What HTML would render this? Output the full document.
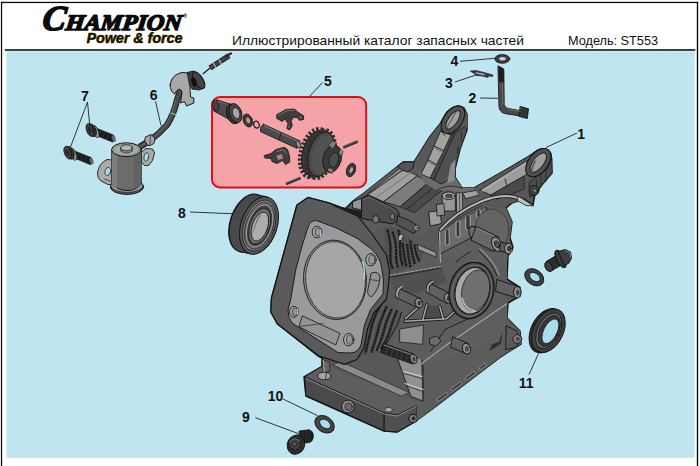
<!DOCTYPE html>
<html>
<head>
<meta charset="utf-8">
<title>ST553</title>
<style>
html,body{margin:0;padding:0;background:#fff;}
body{width:700px;height:466px;overflow:hidden;position:relative;font-family:"Liberation Sans",sans-serif;}
svg{position:absolute;left:0;top:0;display:block;}
.lbl{font-family:"Liberation Sans",sans-serif;font-weight:bold;font-size:14px;fill:#111;}
.ld{stroke:#222;stroke-width:0.9;fill:none;}
.hd{font-family:"Liberation Sans",sans-serif;font-size:13px;fill:#111;}
</style>
</head>
<body>
<svg width="700" height="466" viewBox="0 0 700 466">
<!-- FRAME -->
<rect x="0" y="0" width="700" height="466" fill="#ffffff"/>
<rect x="6.400" y="51.200" width="688.100" height="406.700" fill="#bfe6f0"/>
<rect x="0.900" y="1.800" width="1.250" height="465" fill="#0a0a0a"/>
<rect x="696.800" y="1.800" width="1.400" height="465" fill="#0a0a0a"/>
<rect x="0.900" y="1.800" width="697.300" height="1.300" fill="#0a0a0a"/>
<rect x="4.900" y="49.200" width="690.400" height="1.550" fill="#0a0a0a"/>

<!-- HEADER -->
<g id="header">
<g transform="translate(41.500,30.400) skewX(-7)">
<text x="0" y="0" font-family="Liberation Serif, serif" font-weight="bold" font-style="italic" font-size="35" fill="#0a0a0a" stroke="#0a0a0a" stroke-width="1.500" stroke-linejoin="round">C</text>
</g>
<g transform="translate(65,29.700) skewX(-7)">
<text x="0" y="0" font-family="Liberation Serif, serif" font-weight="bold" font-style="italic" font-size="22.300" fill="#0a0a0a" stroke="#0a0a0a" stroke-width="1.500" stroke-linejoin="round" textLength="116" lengthAdjust="spacingAndGlyphs">HAMPION</text>
</g>
<text x="183.500" y="18" font-family="Liberation Sans, sans-serif" font-weight="bold" font-size="5" fill="#0a0a0a">®</text>
<text x="87.300" y="43" font-family="Liberation Sans, sans-serif" font-weight="bold" font-style="italic" font-size="15" fill="#d9b21c" textLength="96" lengthAdjust="spacingAndGlyphs">Power &amp; force</text>
<text x="86.500" y="42.500" font-family="Liberation Sans, sans-serif" font-weight="bold" font-style="italic" font-size="15" fill="#14100a" stroke="#14100a" stroke-width="0.300" textLength="96" lengthAdjust="spacingAndGlyphs">Power &amp; force</text>
<text class="hd" x="232" y="44.800" textLength="292" lengthAdjust="spacingAndGlyphs">Иллюстрированный каталог запасных частей</text>
<text class="hd" x="568" y="44.800" textLength="90" lengthAdjust="spacingAndGlyphs">Модель: ST553</text>
</g>

<!-- RED INSET BOX -->
<rect x="212" y="97" width="154.200" height="90.400" rx="8" ry="8" fill="#f5a3a7" stroke="#df0f18" stroke-width="2"/>

<g id="engine" stroke-linejoin="round" stroke-linecap="round">
<!-- silhouette -->
<path d="M440,124 L447,112 Q456,103 464,108 L467,114 L467,130 L460,149 L455,169 L455,177 L462,188 L474,188 L504,171 L526,158 L538,150 Q547,146 551,154 L552,173 L541,186 L535,194 L533,205 L524,199 L512,203 L506,208 L512,222 L510,238 L513,247 L508,256 L507,279 L520,287.500 L520,296 L508,303 L507,318 L520,331 L521,344 L502,356 L469,381 L435,407 L416,421 L397,432 L384,431 L306,396 L304,377 L322,366.500 L322,358 L318,356 L277.500,324 L270.800,312 L271.500,298 L297,205 L308,197.500 L329,203 L345,209 L353,201 L364,193 L398,166 L403,162 L414,162 L430,136.500 Z" fill="#585858" stroke="#141414" stroke-width="1.5"/>

<!-- ===== BASE PLATE ===== -->
<path d="M305,377 L324,365.500 L420,402 L416.600,405.500 L397,415 L384.400,413 Z" fill="#5e5e5e"/>
<path d="M333,364.700 L341,361.500 L409,392.500 L401.600,396 Z" fill="#8a8a8a" stroke="#2a2a2a" stroke-width="0.7"/>
<path d="M305,377 L384.400,413 L384.400,431 L306,395.500 Z" fill="#4a4a4a" stroke="#151515" stroke-width="1"/>
<path d="M384.400,413 L397,415 L416.600,405.500 L416.600,421 L397,432 L384.400,431 Z" fill="#505050" stroke="#151515" stroke-width="1"/>
<path d="M306,378.600 L384.400,414 L397,416 L416,406.600" fill="none" stroke="#8e8e8e" stroke-width="1"/>
<ellipse cx="324.300" cy="376" rx="6.600" ry="3.900" fill="#a4a4a4" stroke="#1c1c1c" stroke-width="0.9"/>
<path d="M326.500,372.500 L325.500,379.600" stroke="#1c1c1c" stroke-width="0.8"/>
<circle cx="348" cy="406.500" r="6.400" fill="#8a8a8a" stroke="#171717" stroke-width="1"/>
<circle cx="348.500" cy="406.800" r="3.700" fill="#6a6a6a" stroke="#222" stroke-width="0.8"/>
<ellipse cx="388.700" cy="409.700" rx="3.800" ry="2.300" fill="#a8a8a8" stroke="#222" stroke-width="0.7"/>
<circle cx="413" cy="418.500" r="4.200" fill="#777" stroke="#141414" stroke-width="1.100"/>
<circle cx="413.600" cy="418.500" r="1.900" fill="#2c2c2c"/>
<path d="M322.500,359.500 L329.500,362 L329.800,371.500 L323.500,372.500 Z" fill="#666" stroke="#1c1c1c" stroke-width="0.7"/>
<path d="M323.300,360.500 L324.200,372" stroke="#a8a8a8" stroke-width="1.100"/>

<!-- ===== LOWER RIGHT CRANKCASE SIDE ===== -->
<path d="M420,402 L423,360 L440,346 L506,299 L507,318 L520,331 L521,344 L502,356 L435,407 L416.600,421 L416.600,405.500 Z" fill="#5c5c5c"/>
<path d="M424,356.500 L506,299.500" stroke="#a0a0a0" stroke-width="0.8" fill="none"/>
<path d="M423,360 L423,401" stroke="#1c1c1c" stroke-width="0.9" fill="none"/>
<g fill="#3a3a3a" stroke="#a2a2a2" stroke-width="0.7">
<path d="M437,399 l9.500,-6.800 l1.400,2.200 l-9.500,6.800 z"/>
<path d="M451,388.500 l9.500,-6.800 l1.400,2.200 l-9.500,6.800 z"/>
<path d="M465,378 l9.500,-6.800 l1.400,2.200 l-9.500,6.800 z"/>
<path d="M479,367.500 l6,-4.300 l1.400,2.200 l-6,4.300 z"/>
</g>
<path d="M489,351 L503.500,321 L501,344 Z" fill="#2f2f2f"/>
<path d="M506.500,326 L516,330.500 L520.500,339 L516,347.500 L506,349.500 Z" fill="#5a5a5a" stroke="#161616" stroke-width="0.9"/>
<circle cx="517.300" cy="339" r="4.400" fill="#7e7e7e" stroke="#161616" stroke-width="0.9"/>
<circle cx="517.800" cy="339" r="2" fill="#444"/>

<!-- cylinder neck light panel -->
<path d="M396,353 L410,346 L421.500,352 L423,401 L411,396.500 L405,380 Z" fill="#909090" stroke="#1e1e1e" stroke-width="0.9"/>
<path d="M404,371.500 L422,376.500 M405,383.500 L423,389.500" stroke="#d2d2d2" stroke-width="1.2" fill="none"/>
<path d="M404,373.500 L422,378.500 M405.500,385.500 L423,391.500" stroke="#333" stroke-width="0.8" fill="none"/>

<!-- ===== MID BODY base tones ===== -->
<path d="M392,262 L440,250 L507,262 L507,300 L440,346 L423,360 L396,353 L392,340 L398,300 Z" fill="#5c5c5c"/>
<!-- big dark side panel -->
<path d="M445,329.500 L507.300,302.500 L507.300,318.600 L498.800,342 L421.500,365.800 L423,358 Z" fill="#5e5e5e"/>
<path d="M421.500,363.700 L445,346 L507,303.600" fill="none" stroke="#c8c8c8" stroke-width="0.9"/>
<path d="M430,352 L445,329.500 L472,317" fill="none" stroke="#1c1c1c" stroke-width="0.9"/>

<!-- neck light panel under fins -->
<path d="M400,329 L423.600,325 L422.600,344.400 L400,342 Z" fill="#8e8e8e" stroke="#1e1e1e" stroke-width="0.8"/>
<!-- web ribs -->
<path d="M426.900,304.900 L439.800,306.600 L443.200,318.700 L422.600,320.400 Z" fill="#4a4a4a"/>
<g fill="none" stroke="#161616" stroke-width="3.200">
<path d="M420.900,304.900 L405.500,318.700"/>
<path d="M426.900,304.900 L422.600,320.400"/>
<path d="M439.800,306.600 L443.200,318.700"/>
<path d="M405,321.300 L446.700,318.700 L454,312"/>
</g>
<g fill="none" stroke="#a6a6a6" stroke-width="1.600">
<path d="M420.900,304.900 L405.500,318.700"/>
<path d="M426.900,304.900 L422.600,320.400"/>
<path d="M439.800,306.600 L443.200,318.700"/>
<path d="M405,321.300 L446.700,318.700 L454,312"/>
</g>

<!-- ===== UPPER FINS ===== -->
<path d="M384,226 L398,227 L409,238 L424,249 L421,262 L390,277 L386,258 Z" fill="#525252"/>
<g fill="none" stroke="#1c1c1c" stroke-width="2.400" stroke-dasharray="2.600 0.400" stroke-linecap="butt">
<path d="M387.200,229.700 Q391,240 390.400,252.200 T393,268.900"/>
<path d="M392.400,231.600 Q396.500,241 396.200,252.200 T398.200,267.600"/>
<path d="M398.200,229.700 Q400.500,238 400,245.700 T402.700,266.300"/>
<path d="M402.700,243.200 Q404,255 406.500,266.300"/>
<path d="M407.200,243.800 Q408,256 410.400,267.600"/>
<path d="M410.400,240.600 Q411.500,253 414.900,263.800"/>
<path d="M414.300,244.500 Q415.500,254 419.400,261.200"/>
</g>
<g fill="none" stroke="#666" stroke-width="0.700">
<path d="M389.800,233 Q393.300,243 393.300,252.200 T395.600,267"/>
<path d="M395.300,234 Q398.700,243 398.300,252.200 T400.500,266"/>
<path d="M404.900,246 Q405.800,256 408.500,266"/>
<path d="M412.400,244 Q413.500,254 417.200,262.500"/>
</g>
<ellipse cx="400.700" cy="237.400" rx="2.200" ry="3.500" transform="rotate(20 400.700 237.400)" fill="#b4b4b4" stroke="#161616" stroke-width="0.700"/>
<path d="M417.500,244.500 L436,252.500 L436,257 L419,250 Z" fill="#969696" stroke="#1a1a1a" stroke-width="0.700"/>
<!-- band between fins -->
<path d="M389,275.500 L441,266 L447,282 L398,300 Z" fill="#505050"/>
<path d="M389,275.500 L441,266.500" stroke="#b0b0b0" stroke-width="0.9" stroke-dasharray="3 1.500" fill="none"/>
<path d="M390,277.300 L441,268" stroke="#1b1b1b" stroke-width="0.8" fill="none"/>

<!-- ===== LOWER FINS ===== -->
<path d="M386,300 L401.400,312.300 L397.900,324.300 L391.900,334.600 L383,348.700 L358.400,357 L363.500,340 L368,322 L374,310 Z" fill="#545454"/>
<g fill="none" stroke="#1c1c1c" stroke-width="2.400" stroke-dasharray="2.600 0.400" stroke-linecap="butt">
<path d="M380.800,304.600 Q373.500,318 371.300,327.800 T365.300,353.500"/>
<path d="M386.800,306.300 Q380.500,320 378.200,329.500 T371.300,352.700"/>
<path d="M391.900,308.900 Q386.500,320 384.200,329.500 T376.500,350.900"/>
<path d="M397,310.600 Q392.500,321 390.200,329.500 T380.800,349.200"/>
</g>
<path d="M401.400,312.300 L397.900,324.300 L391.900,334.600 L384,347" fill="none" stroke="#151515" stroke-width="1"/>
<g fill="none" stroke="#6a6a6a" stroke-width="0.700">
<path d="M383.500,305.500 Q376.500,319 374.300,328.600 T368,353"/>
<path d="M389.300,307.600 Q383.500,320 381.200,329.500 T374,351.800"/>
<path d="M394.400,309.700 Q389.500,320.500 387.200,329.500 T378.600,350"/>
</g>
<!-- stud below fins -->
<path d="M383.500,343.500 L414,354 Q417,358 415,362.500 L412.500,364 L381,352.500 Z" fill="#262626" stroke="#121212" stroke-width="0.8"/>
<path d="M384,345 L413.500,355.300" stroke="#8e8e8e" stroke-width="1" fill="none"/>
<path d="M388,346 L386,354 M393,347.800 L391,355.800 M398,349.500 L396,357.500 M403,351.200 L401,359.200 M408,353 L406,361" stroke="#4a4a4a" stroke-width="0.700"/>
<ellipse cx="413.600" cy="359" rx="3.300" ry="4.800" transform="rotate(-20 413.600 359)" fill="#8a8a8a" stroke="#121212" stroke-width="0.8"/>
<ellipse cx="413.900" cy="359.200" rx="1.500" ry="2.400" transform="rotate(-20 413.900 359.200)" fill="#3a3a3a"/>

<!-- bosses (cylinders) -->
<g stroke="#161616" stroke-width="0.9">
<path d="M399,288.500 L420.500,298.500 L418,308 L396,297.500 Z" fill="#606060"/>
<ellipse cx="418.800" cy="303" rx="3.600" ry="5" transform="rotate(-20 418.800 303)" fill="#8a8a8a"/>
<path d="M429.500,283 L450,293.500 L447,303.500 L427,292.500 Z" fill="#606060"/>
<ellipse cx="448" cy="298.300" rx="3.600" ry="5" transform="rotate(-20 448 298.300)" fill="#8a8a8a"/>
<path d="M453,337 L468.500,343.500 L467,354 L451,347.500 Z" fill="#606060"/>
<ellipse cx="466.500" cy="348.700" rx="4" ry="5.400" transform="rotate(-18 466.500 348.700)" fill="#909090"/>
</g>
<g fill="none" stroke-linecap="butt">
<path d="M397.500,297 Q395.500,290 402.500,286.200" stroke="#161616" stroke-width="3.400"/>
<path d="M397.500,297 Q395.500,290 402.500,286.200" stroke="#a8a8a8" stroke-width="1.900"/>
<path d="M428,291.700 Q426,285 433.500,281" stroke="#161616" stroke-width="3.400"/>
<path d="M428,291.700 Q426,285 433.500,281" stroke="#a8a8a8" stroke-width="1.900"/>
</g>
<ellipse cx="419.200" cy="303.200" rx="1.600" ry="2.400" fill="#3a3a3a"/>
<ellipse cx="448.400" cy="298.500" rx="1.600" ry="2.400" fill="#3a3a3a"/>
<ellipse cx="467" cy="348.900" rx="1.900" ry="2.800" fill="#4a4a4a"/>
<!-- bracket notch -->
<path d="M430,338 L437,336 L441,341 L436,346 L430,344 Z" fill="#6c6c6c" stroke="#161616" stroke-width="0.8"/>

<!-- ===== BEARING SEAT ===== -->
<g transform="rotate(14 471.500 290.500)">
<ellipse cx="471.500" cy="290.500" rx="22" ry="28.500" fill="#4e4e4e" stroke="#111" stroke-width="1.200"/>
<ellipse cx="472" cy="290.500" rx="19.500" ry="26" fill="none" stroke="#747474" stroke-width="0.8"/>
<ellipse cx="472.500" cy="290.500" rx="17" ry="23.600" fill="#a8a8a8" stroke="#111" stroke-width="1"/>
<ellipse cx="475.500" cy="289.300" rx="13.600" ry="20.600" fill="#707070" stroke="#2a2a2a" stroke-width="0.8"/>
<path d="M464,300 Q470,311 480,309.500" stroke="#c4c4c4" stroke-width="1.400" fill="none"/>
</g>

<!-- ===== RIGHT SIDE UPPER ===== -->
<path d="M438.700,230 L486,206.400 L506,208 L512,222 L510,238 L507,262 L470,262 L440.800,253.600 Z" fill="#5e5e5e"/>
<path d="M438.700,230 L486,206.400 L490,228 L440.800,253.600 Z" fill="#6a6a6a" stroke="#1a1a1a" stroke-width="0.9"/>
<g stroke="#b0b0b0" stroke-width="0.9" fill="#383838">
<path d="M445.600,229.500 q1.700,-1.600 3.400,0 l0.300,15 q-1.900,1.700 -3.700,0 z"/>
<path d="M456.300,221.500 q1.700,-1.600 3.400,0 l0.300,15 q-1.900,1.700 -3.700,0 z"/>
<path d="M466,214.500 q2,-1.700 4,0 l0.300,15 q-2.200,1.800 -4.300,0 z"/>
<path d="M477,210 q1.600,-1.500 3.200,0 l0.200,6.500 q-1.800,1.600 -3.400,0 z"/>
</g>
<!-- bulge behind boss -->
<ellipse cx="492" cy="230" rx="17" ry="21" fill="#646464" stroke="#2c2c2c" stroke-width="0.700"/>
<!-- horizontal boss -->
<g stroke="#141414" stroke-width="0.9">
<ellipse cx="473.800" cy="233.300" rx="4.600" ry="7.300" transform="rotate(-22 473.800 233.300)" fill="#6a6a6a"/>
<path d="M476.500,226.500 L499.200,237.300 L494,251.300 L471.200,240.200 Z" fill="#686868"/>
<path d="M477,228 L498.500,238.300" stroke="#8a8a8a" stroke-width="0.900" fill="none"/>
<ellipse cx="496.500" cy="244.200" rx="4.600" ry="7.500" transform="rotate(-22 496.500 244.200)" fill="#8e8e8e"/>
<ellipse cx="497" cy="244.400" rx="2.100" ry="3.600" transform="rotate(-22 497 244.400)" fill="#555"/>
<path d="M501,242 L509,244 L509,253.500 L500,251 Z" fill="#5a5a5a"/>
<ellipse cx="508.700" cy="248.600" rx="4" ry="5.200" fill="#9a9a9a"/>
<ellipse cx="509.400" cy="248.600" rx="1.800" ry="2.500" fill="#444"/>
<path d="M497,279.500 L518,286.500 L517,298 L496,291.500 Z" fill="#606060"/>
<ellipse cx="517.300" cy="292.300" rx="3.800" ry="5.800" fill="#8a8a8a"/>
<ellipse cx="517.800" cy="292.500" rx="1.700" ry="2.800" fill="#444" stroke="none"/>
</g>
<!-- curved ribs around bearing -->
<path d="M478,250 Q492,262 497,276 M470,252 Q462,256 456,262" stroke="#1a1a1a" stroke-width="0.9" fill="none"/>
<path d="M480,249 Q494,261 499,275" stroke="#8e8e8e" stroke-width="1.400" fill="none"/>

<!-- ===== TOP HOUSING ===== -->
<path d="M352.900,201.500 L364,193 L398,166 L403,162 L414,162 L418,170 L441,184 L455,177 L462,188 L474,188 L486,206.400 L438.700,230 L430,228 L420,236 L396,228 L386,226 L372,234 L356,214 L353,208 Z" fill="#5c5c5c"/>
<!-- light top strip -->
<path d="M356,203 L401,167.500 L404.400,169 L368,194.500 L361,200 Z" fill="#8e8e8e" stroke="#1a1a1a" stroke-width="0.700"/>
<path d="M368,194.500 L404.400,169 L417.300,175.800 L383.800,201.500 Z" fill="#9e9e9e" stroke="#1a1a1a" stroke-width="0.8"/>
<path d="M375.400,198 L410.800,172.500" stroke="#6c6c6c" stroke-width="0.800"/>
<path d="M383.800,201.500 L417.300,175.800 L428.800,182.200 L400.500,206.500 Z" fill="#7c7c7c" stroke="#1a1a1a" stroke-width="0.8"/>
<path d="M400.500,206.500 L428.800,182.200 L443,189.500 L414.700,212.500 Z" fill="#4a4a4a" stroke="#1a1a1a" stroke-width="0.8"/>
<path d="M407,209 L435.500,186" stroke="#1a1a1a" stroke-width="0.700"/>
<!-- small block on top -->
<path d="M398,166 L403,162 L414,162 L413,168 L408,172 L402,170 Z" fill="#555" stroke="#141414" stroke-width="0.9"/>
<!-- front plate -->
<path d="M352.900,201.500 L361.500,198.300 L361.500,210 L352.900,208 Z" fill="#949494" stroke="#141414" stroke-width="0.9"/>
<!-- rocker front piece -->
<path d="M362,198 L369,195.500 L397,209.500 Q400.500,213 398.600,218 L393,224 L362,218.600 Z" fill="#4c4c4c" stroke="#141414" stroke-width="1"/>
<path d="M363,199.500 L369,197 L396,210.500" stroke="#6e6e6e" stroke-width="0.800" fill="none"/>
<ellipse cx="375.700" cy="219.300" rx="3.300" ry="3.700" fill="#767676" stroke="#141414" stroke-width="0.9"/>
<ellipse cx="392.400" cy="216.400" rx="2.600" ry="3" fill="#767676" stroke="#141414" stroke-width="0.8"/>
<path d="M397.900,215.700 L410,220.700 L418.600,226.400 L414.300,233.600 L397,225 Z" fill="#525252" stroke="#141414" stroke-width="0.9"/>
<circle cx="416.400" cy="227.900" r="2.800" fill="#9c9c9c" stroke="#141414" stroke-width="0.8"/>
<circle cx="416.600" cy="228" r="1.200" fill="#555"/>
<!-- arm base lighter -->
<path d="M418,170 L430,178 L441,184 L455,177 L462,188 L474,188 L481,190 L464,193.500 L448,190 L436,190.500 L424,182.500 Z" fill="#6c6c6c"/>
<path d="M436,190.500 Q448,183 462,188" stroke="#1c1c1c" stroke-width="0.8" fill="none"/>
<!-- wall top -->
<path d="M462.800,192.800 L481,189.500 L486,193.500 L466,198.500 Z" fill="#a0a0a0" stroke="#1a1a1a" stroke-width="0.8"/>
<!-- post with hole -->
<path d="M442.300,195.500 L455.200,195.500 L455.500,211 L443,211 Z" fill="#989898" stroke="#141414" stroke-width="0.8"/>
<ellipse cx="448.700" cy="195.700" rx="6.500" ry="3.800" fill="#a8a8a8" stroke="#141414" stroke-width="0.9"/>
<ellipse cx="449" cy="195.900" rx="3.600" ry="1.900" fill="#4a4a4a" stroke="#222" stroke-width="0.500"/>
<path d="M456.600,193 L462.400,192.500 L462.800,211 L457,212.500 Z" fill="#9a9a9a" stroke="#161616" stroke-width="0.700"/>
<path d="M459.500,194 L459.800,211" stroke="#3a3a3a" stroke-width="0.700"/>

<!-- front light blocks -->
<path d="M429,212 L440,210.500 L441.500,223.500 L430.500,226 Z" fill="#9c9c9c" stroke="#1a1a1a" stroke-width="0.9"/>
<path d="M436.700,204.400 L444,203.500 L444.600,215 L437.500,216 Z" fill="#8e8e8e" stroke="#1a1a1a" stroke-width="0.8"/>

<!-- ===== LEFT ARM ===== -->
<path d="M440,124 L447,112 Q456,103 464,108 L467,114 L467,130 L460,149 L455,169 L455,177 L441,184 L418,170 L414,162 L430,136.500 Z" fill="#585858"/>
<!-- right face -->
<path d="M455,133 L464.400,127 L467,130 L460,149 L455,169 L455,177 L441,184 L434,180 Z" fill="#505050" stroke="#1a1a1a" stroke-width="0.8"/>
<path d="M450.500,165 L455.500,159 L454.500,180 L447,183.500 Z" fill="#8c8c8c"/>
<path d="M461.500,133 L461,141 M458,147 L457.500,153" stroke="#1e1e1e" stroke-width="0.8"/>
<!-- inner wall -->
<path d="M451,135 L455,133 L434,180 L430,178 Z" fill="#474747" stroke="#1a1a1a" stroke-width="0.700"/>
<!-- long light panel -->
<path d="M441,131 L451,135 L443,152 L436,166 L430,178 L421,174 L428,160 L434,146 Z" fill="#a2a2a2" stroke="#1a1a1a" stroke-width="0.800"/>
<path d="M434,146 L443,150.500 M428,160 L436.500,164.500" stroke="#1e1e1e" stroke-width="1"/>
<path d="M435,148.500 L443.500,153 M429,162.500 L437,166.500" stroke="#6a6a6a" stroke-width="0.9"/>
<!-- ring -->
<g transform="rotate(-55 453 119.800)">
<ellipse cx="453" cy="119.800" rx="15.600" ry="9.400" fill="#525252" stroke="#141414" stroke-width="1.100"/>
<ellipse cx="453" cy="119.800" rx="11" ry="4.600" fill="#a0a0a0" stroke="#141414" stroke-width="0.9"/>
</g>
<path d="M446.500,128.500 L456.500,111" stroke="#2a2a2a" stroke-width="0.700"/>
<path d="M441,131 L445,136 M451,135 L448,131" stroke="#1e1e1e" stroke-width="0.700"/>

<!-- ===== RIGHT ARM ===== -->
<path d="M474,188 L504,171 L526,158 L538,150 Q547,146 551,154 L552,173 L541,186 L535,194 L524,199 L512,203 L486,206.400 Z" fill="#585858"/>
<!-- top face light -->
<path d="M480,190 L527,160.500 L529,172 L524,176 L491,195 Z" fill="#9c9c9c" stroke="#1a1a1a" stroke-width="0.8"/>
<path d="M491,195 L524,176 L524.500,189 L510,195 L497,199 Z" fill="#4a4a4a" stroke="#1a1a1a" stroke-width="0.700"/>
<path d="M505,179 L507,186.500" stroke="#1a1a1a" stroke-width="0.8"/>
<path d="M481.500,191.500 L526,163.500" stroke="#c2c2c2" stroke-width="0.700"/>
<!-- right face -->
<path d="M548,168 L552,158 L552,173 L541,186 L535,194 L530,197 L529,183 Z" fill="#4c4c4c" stroke="#1a1a1a" stroke-width="0.8"/>
<path d="M546,169 L546,181 M541,175 L541,187 M536.500,180 L536.500,192" stroke="#202020" stroke-width="0.700"/>
<g transform="rotate(-52 538.300 162.600)">
<ellipse cx="538.300" cy="162.600" rx="16.200" ry="9.800" fill="#505050" stroke="#141414" stroke-width="1.100"/>
<ellipse cx="538.300" cy="162.600" rx="11.800" ry="5.300" fill="#a0a0a0" stroke="#141414" stroke-width="0.9"/>
<path d="M527.500,161.500 Q532,158.500 538,158.300 L538,160.200 Q532,160.500 528.500,163.500 Z" fill="#5a5a5a"/>
</g>
<circle cx="534" cy="190.500" r="5" fill="#454545" stroke="#141414" stroke-width="1"/>
<circle cx="535" cy="190.800" r="2.200" fill="#7a7a7a" stroke="#141414" stroke-width="0.7"/>
<path d="M439.300,230 L440.500,262" stroke="#a8a8a8" stroke-width="1.100" fill="none"/>
<!-- governor arm -->
<path d="M440.600,229.600 Q456,212 481,201.500 Q498,194.500 512,196.500 L523,199.500" fill="none" stroke="#161616" stroke-width="3.800"/>
<path d="M440.600,229.600 Q456,212 481,201.500 Q498,194.500 512,196.500 L523,199.500" fill="none" stroke="#b4b4b4" stroke-width="2.200"/>
<path d="M444,230.500 Q458,216 482,205.500" fill="none" stroke="#2a2a2a" stroke-width="0.800"/>
<path d="M519,196.500 L533.500,205.800 L526,205.500 L517,200.500 Z" fill="#c0c0c0" stroke="#161616" stroke-width="0.800"/>


<!-- ===== HEAD ===== -->
<path d="M308,197.500 L329,203 L345,209 L356,214 L372,234 L386.500,255 L389.500,271 L388.500,285 L386.500,299 L373.500,313.500 L367.500,329 L364,348 L357,359.500 L344.400,364.400 L318.600,355.800 L277.500,324 L270.800,312 L271.500,298 L297,205 Z" fill="#5a5a5a" stroke="#141414" stroke-width="1.200"/>
<!-- gasket plate -->
<path d="M308.600,226 Q309.800,220.300 316.600,220.600 L336,227.800 L357,238.300 L372,249.500 Q380,257 381.500,267 L383.500,280 L383,294 L370.500,309.500 L364.500,325 L361,345 Q358,352.500 351,353 L338,352.600 L292,323 Q287.500,317 288,310 L290.600,300 L295.700,270 L302.300,245 L306.800,231 Z" fill="#9a9a9a" stroke="#1d1d1d" stroke-width="1"/>
<!-- bore -->
<ellipse cx="335" cy="279.800" rx="31.400" ry="39.800" transform="rotate(-6 335 279.800)" fill="#8a8a8a" stroke="#1d1d1d" stroke-width="0.9"/>
<ellipse cx="335.500" cy="279.800" rx="29.800" ry="38.300" transform="rotate(-6 335.500 279.800)" fill="#a6a6a6" stroke="#2a2a2a" stroke-width="0.8"/>
<path d="M362.500,262 q3,8 1.500,17" stroke="#9fdcee" stroke-width="1.300" fill="none"/>
<!-- bolt holes -->
<g stroke="#1c1c1c" stroke-width="0.9">
<ellipse cx="317" cy="232" rx="4.800" ry="5.800" fill="#a8a8a8"/>
<ellipse cx="371" cy="259.700" rx="5.200" ry="6.200" fill="#a8a8a8"/>
<ellipse cx="294" cy="311.800" rx="4.500" ry="5.400" fill="#a8a8a8"/>
<ellipse cx="348.700" cy="339.700" rx="5.200" ry="6.200" fill="#a8a8a8"/>
</g>
<g fill="#979797" stroke="#262626" stroke-width="0.7">
<ellipse cx="317.800" cy="232" rx="2.700" ry="4"/>
<ellipse cx="371.800" cy="259.700" rx="3" ry="4.400"/>
<ellipse cx="294.800" cy="311.800" rx="2.500" ry="3.700"/>
<ellipse cx="349.500" cy="339.700" rx="3" ry="4.400"/>
</g>
<path d="M320.300,230 q1,3 0,5.500 M297.300,309.500 q0.800,2.500 0,4.500" stroke="#9fdcee" stroke-width="1.200" fill="none"/>
<!-- rectangular slot -->
<path d="M302.500,316 L340,333.300 L335.800,345 L299.300,327 Z" fill="#929292" stroke="#222" stroke-width="0.9"/>
<path d="M300.500,326.300 L323,323.500" stroke="#2a2a2a" stroke-width="0.7"/>
<!-- teardrop slot -->
<path d="M371.500,273 Q377.500,270.500 380,276 Q380,288 372,296.500 Q367,296.500 367.800,290 Z" fill="#929292" stroke="#1e1e1e" stroke-width="0.9"/>
<path d="M369.800,279.500 L379.500,281" stroke="#222" stroke-width="0.7"/>
<!-- head top bevel -->
<path d="M331,205 L361.500,211 L361.500,218.500 Z" fill="#1c1c1c"/>
</g>



<g id="parts" stroke-linejoin="round" stroke-linecap="round">

<!-- ===== PART 2 lever ===== -->
<path d="M498.300,66 L503.800,69 L504.200,104.500 Q504.700,108 508,108.500 L521,110.800 L520.300,116 L505.500,113.700 Q499.400,112.700 499,106.500 Z" fill="#4a4a4a" stroke="#161616" stroke-width="0.9"/>
<path d="M498.300,66 L503.800,69 L504,82 L498.600,82 Z" fill="#1e1e1e"/>
<path d="M502.600,84 L503,104" stroke="#777" stroke-width="0.8" fill="none"/>
<path d="M520.500,106.500 L528.500,108.800 L527.300,118.500 L519.300,116.500 Z" fill="#333" stroke="#141414" stroke-width="0.9"/>
<path d="M508,109.300 L520,111.300" stroke="#7a7a7a" stroke-width="0.8" fill="none"/>

<!-- ===== PART 3 pin ===== -->
<path d="M470.500,71 L476,70.500 L484,72.500 L493,75 L492.500,76.600 L489,76 L488,77.500 L482,76 L476,75.500 L474,73.500 Z" fill="#3a3a3a" stroke="#1e1e1e" stroke-width="0.600"/>
<path d="M476,72.800 L484,74.600" stroke="#c8c8c8" stroke-width="1.100"/>

<!-- ===== PART 4 washer ===== -->
<ellipse cx="502.300" cy="58.900" rx="7.500" ry="4.400" fill="#3c3c3c" stroke="#161616" stroke-width="0.8"/>
<ellipse cx="502.500" cy="58.700" rx="3.300" ry="1.700" fill="#c9d6d8"/>

<!-- ===== PART 5 group ===== -->
<!-- bushing -->
<path d="M217,100 L233.500,105 L229.500,119.500 L213.800,111 Q212.300,104.500 217,100 Z" fill="#4c4c4c" stroke="#1a1a1a" stroke-width="0.9"/>
<path d="M217.500,101.300 L232,105.800" stroke="#6e6e6e" stroke-width="0.9" fill="none"/>
<ellipse cx="215.600" cy="105.600" rx="2.900" ry="5.700" transform="rotate(-18 215.600 105.600)" fill="#444" stroke="#1a1a1a" stroke-width="0.7"/>
<g transform="rotate(-18 235 113.300)">
<ellipse cx="233" cy="113.300" rx="6.400" ry="10.200" fill="#333" stroke="#141414" stroke-width="0.9"/>
<ellipse cx="235.600" cy="113.300" rx="6" ry="9.900" fill="#454545" stroke="#141414" stroke-width="0.8"/>
<ellipse cx="236.200" cy="113.500" rx="3.500" ry="5.600" fill="#a6a6a6" stroke="#222" stroke-width="0.7"/>
</g>
<!-- washer + o-ring -->
<g transform="rotate(-20 247.800 120.500)">
<ellipse cx="247.800" cy="120.500" rx="4.400" ry="6.700" fill="#3c3c3c" stroke="#161616" stroke-width="0.8"/>
<ellipse cx="248.200" cy="120.500" rx="1.700" ry="3" fill="#c49a9c"/>
</g>
<ellipse cx="256.500" cy="124.600" rx="2.700" ry="3.500" transform="rotate(-20 256.500 124.600)" fill="none" stroke="#242424" stroke-width="1.300"/>
<!-- shaft -->
<path d="M263.500,124.300 L300,141 L297,148.300 L260.500,131.600 Q259.800,126.500 263.500,124.300 Z" fill="#4a4a4a" stroke="#181818" stroke-width="0.9"/>
<path d="M264.500,126 L299,141.800" stroke="#787878" stroke-width="1.100" fill="none"/>
<path d="M281.500,132.500 L278.700,139.800" stroke="#1a1a1a" stroke-width="0.9"/>
<ellipse cx="298.500" cy="144.600" rx="2" ry="3.800" transform="rotate(-22 298.500 144.600)" fill="#949494" stroke="#1e1e1e" stroke-width="0.700"/>
<!-- top clip -->
<path d="M277,114.500 L286,109.500 L294.500,109 L297,111.500 L303.800,116 L303.500,119.500 L299.500,120.300 L297,117.500 L293.500,117.200 L291,121 L292.500,125.500 L289.500,130 L286.800,128.500 L288,123.500 L285,119 L282,121.500 L277,118.500 Z" fill="#3e3e3e" stroke="#161616" stroke-width="0.8"/>
<path d="M279,114.800 L287,110.600 L294,110.300" stroke="#7c7c7c" stroke-width="0.9" fill="none"/>
<circle cx="300.800" cy="117.300" r="1.400" fill="#9a9a9a" stroke="#161616" stroke-width="0.600"/>
<circle cx="289" cy="126.800" r="1.300" fill="#9a9a9a" stroke="#161616" stroke-width="0.600"/>
<!-- bottom clip -->
<path d="M264.500,155.500 L271,153.500 L276,149.500 L284,147.300 L287.500,149.500 L289.500,156 L289.800,162 L285.500,164.500 L282.500,160.500 L277,163.500 L272,161.500 L271,158.500 L265,158 Z" fill="#3e3e3e" stroke="#161616" stroke-width="0.8"/>
<path d="M277,151.500 L283.500,149.500 L286,153" stroke="#808080" stroke-width="0.9" fill="none"/>
<path d="M276.500,155.500 L282,154 L283,158.500 L278,160 Z" fill="#a88486"/>
<!-- gear -->
<g transform="translate(3,-1) rotate(15 313 154.500)">
<ellipse cx="311.500" cy="154.500" rx="13" ry="24" fill="none" stroke="#303030" stroke-width="5.400" stroke-dasharray="2.300 1.700" stroke-linecap="butt"/>
<ellipse cx="311.500" cy="154.500" rx="12" ry="22.800" fill="#383838" stroke="#161616" stroke-width="0.700"/>
<ellipse cx="317.500" cy="154" rx="13" ry="24" fill="#383838" stroke="#303030" stroke-width="5" stroke-dasharray="2.300 1.700" stroke-linecap="butt"/>
<ellipse cx="318.500" cy="153.800" rx="12.600" ry="22.600" fill="#4a4a4a" stroke="#1a1a1a" stroke-width="0.9"/>
<ellipse cx="320.500" cy="153.800" rx="10.600" ry="19.600" fill="#525252"/>
<ellipse cx="330" cy="155.500" rx="9" ry="14" fill="#3a3a3a" stroke="#161616" stroke-width="0.9"/>
<ellipse cx="332" cy="156" rx="4.600" ry="7.600" fill="#4c4c4c" stroke="#1c1c1c" stroke-width="0.8"/>
</g>
<path d="M328.500,145 L332.500,140.500 L336.500,143 L333,149 Z" fill="#7c7c7c" stroke="#161616" stroke-width="0.600"/>
<path d="M329,167.500 L334,169.500 L332,173.500 L327.500,171 Z" fill="#7c7c7c" stroke="#161616" stroke-width="0.600"/>
<path d="M340,148.500 L343,151.500 L342,156 L339,154 Z" fill="#8a8a8a" stroke="#161616" stroke-width="0.600"/>
<!-- pins -->
<path d="M343.200,147.500 L357.700,141.500" stroke="#2e2e2e" stroke-width="2.600" stroke-linecap="butt"/>
<path d="M286,184 L300.500,178" stroke="#2e2e2e" stroke-width="2.600" stroke-linecap="butt"/>
<path d="M343.500,146.800 L357.400,141" stroke="#6e6e6e" stroke-width="0.700"/>
<path d="M286.300,183.300 L300.200,177.500" stroke="#6e6e6e" stroke-width="0.700"/>
<!-- small washer -->
<g transform="rotate(20 351 170)">
<ellipse cx="351" cy="170" rx="4.300" ry="7" fill="#3a3a3a" stroke="#161616" stroke-width="0.8"/>
<ellipse cx="351.300" cy="170" rx="1.500" ry="3" fill="#c49a9c"/>
</g>

<!-- ===== PART 6 sensor ===== -->
<!-- tube -->
<path d="M139.500,147 L150,140.500 Q160,133 167,125 Q174,114 177,100 L181,88" fill="none" stroke="#161616" stroke-width="6.200" stroke-linecap="butt"/>
<path d="M139.500,147 L150,140.500 Q160,133 167,125 Q174,114 177,100 L181,88" fill="none" stroke="#4c4c4c" stroke-width="4.400" stroke-linecap="butt"/>
<path d="M141,146 L150.500,139.500 Q159,133 166,124.500 Q172.500,114 175.500,100" fill="none" stroke="#6c6c6c" stroke-width="0.9"/>
<path d="M171,113 L176.500,115" stroke="#b5b5b5" stroke-width="1.200"/>
<!-- nut -->
<path d="M145.500,137 L151,134.500 L155,138 L154,143.500 L149,146 L145,142 Z" fill="#a2a2a2" stroke="#161616" stroke-width="0.9"/>
<path d="M150.500,135 L150,145" stroke="#2a2a2a" stroke-width="0.700"/>
<!-- right ear -->
<path d="M141.500,152 L146,148.500 L152.500,149 L154.500,153 L152.500,160.500 L148.500,165.500 L144.500,165.500 L141.500,162 Z" fill="#ababab" stroke="#161616" stroke-width="0.9"/>
<ellipse cx="146.300" cy="157" rx="2.300" ry="4.300" transform="rotate(10 146.300 157)" fill="#a7dced" stroke="#1e1e1e" stroke-width="0.700"/>
<!-- left ear -->
<path d="M112.500,160 L107,159.500 Q99,163 97.500,173 Q97.500,179 102,181.500 L108,184.500 L117,185 L117,180.500 L112,178.500 Z" fill="#ababab" stroke="#161616" stroke-width="0.9"/>
<ellipse cx="107.800" cy="171.500" rx="2.800" ry="4.200" transform="rotate(15 107.800 171.500)" fill="#a7dced" stroke="#1e1e1e" stroke-width="0.700"/>
<path d="M104,179 L112,181.500" stroke="#2a2a2a" stroke-width="0.700"/>
<!-- base flange -->
<ellipse cx="127" cy="187" rx="16.600" ry="7.400" fill="#5a5a5a" stroke="#161616" stroke-width="1"/>
<ellipse cx="127" cy="185.600" rx="16.200" ry="6.800" fill="#9c9c9c" stroke="#161616" stroke-width="0.700"/>
<!-- body -->
<path d="M111.600,150 L111.600,184 Q118,190.500 127,190.500 Q136,190.500 141.200,184 L141.200,150 Z" fill="#6c6c6c" stroke="#161616" stroke-width="1"/>
<path d="M111.600,150 L111.600,184 Q114,187 117,188.500 L117,152 Z" fill="#7e7e7e"/>
<path d="M134,152 L134,189 Q138.500,187.500 141.200,184 L141.200,150 Z" fill="#626262"/>
<ellipse cx="126.400" cy="149.700" rx="14.800" ry="6.900" fill="#a8a8a8" stroke="#161616" stroke-width="1"/>
<ellipse cx="126.400" cy="149.900" rx="12.800" ry="5.600" fill="none" stroke="#7e7e7e" stroke-width="0.700"/>
<path d="M120.700,148 L120.700,151 Q126.500,155 132.400,151 L132.400,148 Z" fill="#8c8c8c" stroke="#1c1c1c" stroke-width="0.700"/>
<ellipse cx="126.500" cy="147.800" rx="5.900" ry="3" fill="#b4b4b4" stroke="#1c1c1c" stroke-width="0.8"/>
<!-- top connector -->
<path d="M170.200,85 Q171,76 180,73 Q186,71.500 189.500,74.500 L190,88 L190.500,97 L193.800,98 L193.800,103 L186.500,106 L184.500,101.500 L180.500,103 L182,92 Q180,87 176.500,91 L174.500,94 Q170,91 170.200,85 Z" fill="#a8a8a8" stroke="#161616" stroke-width="1"/>
<path d="M187.500,72.500 L193,71 L198,73.500 L204.500,82 L204,88 L199,90 L192,89 L189.500,84 Z" fill="#3c3c3c" stroke="#141414" stroke-width="0.9"/>
<ellipse cx="198.700" cy="80.300" rx="4.400" ry="9.600" transform="rotate(-32 198.700 80.300)" fill="#444" stroke="#141414" stroke-width="0.9"/>
<ellipse cx="194" cy="82" rx="2.600" ry="4.800" transform="rotate(-20 194 82)" fill="#111"/>
<path d="M203,73.700 L212,66.400" stroke="#1e1e1e" stroke-width="1.300"/>
<path d="M210,68 L229,55.800" stroke="#161616" stroke-width="5.400" stroke-linecap="butt"/>
<path d="M210,68 L229,55.800" stroke="#454545" stroke-width="3.800" stroke-linecap="butt"/>
<path d="M213.500,63.500 L216,67.500 M219,60 L221.500,64" stroke="#bdbdbd" stroke-width="1.100"/>
<path d="M226,56 L231,53.500" stroke="#2a2a2a" stroke-width="2.200"/>

<!-- ===== PART 7 bolts ===== -->
<g id="bolt7a">
<path d="M96.500,128.300 L113.300,135 Q115.800,137.700 114.300,140.800 L112.500,142 L95.300,135 Z" fill="#1c1c1c" stroke="#0e0e0e" stroke-width="0.700"/>
<path d="M100.500,130 L99,136.500 M104.500,131.700 L103,138.200 M108.500,133.300 L107,139.800" stroke="#3a3a3a" stroke-width="0.700"/>
<ellipse cx="113.800" cy="138.600" rx="1.700" ry="3.400" transform="rotate(-22 113.800 138.600)" fill="#6a6a6a"/>
<ellipse cx="95.800" cy="131.600" rx="2.700" ry="6.300" transform="rotate(-20 95.800 131.600)" fill="#a2a2a2" stroke="#161616" stroke-width="0.8"/>
<ellipse cx="92.600" cy="130.300" rx="3.300" ry="6.600" transform="rotate(-20 92.600 130.300)" fill="#353535" stroke="#111" stroke-width="0.8"/>
<path d="M88.800,123.600 L91.800,124 L94,136.700 L91,136.600 Z" fill="#353535"/>
<ellipse cx="89.900" cy="130" rx="3.300" ry="6.600" transform="rotate(-20 89.900 130)" fill="#444" stroke="#111" stroke-width="0.8"/>
<ellipse cx="89.700" cy="130" rx="1.700" ry="3.600" transform="rotate(-20 89.700 130)" fill="#2a2a2a"/>
</g>
<g id="bolt7b" transform="translate(-22.200,22.600)">
<path d="M96.500,128.300 L113.300,135 Q115.800,137.700 114.300,140.800 L112.500,142 L95.300,135 Z" fill="#1c1c1c" stroke="#0e0e0e" stroke-width="0.700"/>
<path d="M100.500,130 L99,136.500 M104.500,131.700 L103,138.200 M108.500,133.300 L107,139.800" stroke="#3a3a3a" stroke-width="0.700"/>
<ellipse cx="113.800" cy="138.600" rx="1.700" ry="3.400" transform="rotate(-22 113.800 138.600)" fill="#6a6a6a"/>
<ellipse cx="95.800" cy="131.600" rx="2.700" ry="6.300" transform="rotate(-20 95.800 131.600)" fill="#a2a2a2" stroke="#161616" stroke-width="0.8"/>
<ellipse cx="92.600" cy="130.300" rx="3.300" ry="6.600" transform="rotate(-20 92.600 130.300)" fill="#353535" stroke="#111" stroke-width="0.8"/>
<path d="M88.800,123.600 L91.800,124 L94,136.700 L91,136.600 Z" fill="#353535"/>
<ellipse cx="89.900" cy="130" rx="3.300" ry="6.600" transform="rotate(-20 89.900 130)" fill="#444" stroke="#111" stroke-width="0.8"/>
<ellipse cx="89.700" cy="130" rx="1.700" ry="3.600" transform="rotate(-20 89.700 130)" fill="#2a2a2a"/>
</g>

<!-- ===== PART 8 bearing ===== -->
<g transform="rotate(18.700 259 225.500)">
<ellipse cx="248.20" cy="226.60" rx="18" ry="29.7" fill="#4a4a4a" stroke="#161616" stroke-width="1.6"/>
<ellipse cx="249.28" cy="226.49" rx="18" ry="29.7" fill="#4a4a4a"/>
<ellipse cx="250.36" cy="226.38" rx="18" ry="29.7" fill="#4a4a4a"/>
<ellipse cx="251.44" cy="226.27" rx="18" ry="29.7" fill="#4a4a4a"/>
<ellipse cx="252.52" cy="226.16" rx="18" ry="29.7" fill="#4a4a4a"/>
<ellipse cx="253.60" cy="226.05" rx="18" ry="29.7" fill="#4a4a4a"/>
<ellipse cx="254.68" cy="225.94" rx="18" ry="29.7" fill="#4a4a4a"/>
<ellipse cx="255.76" cy="225.83" rx="18" ry="29.7" fill="#4a4a4a"/>
<ellipse cx="256.84" cy="225.72" rx="18" ry="29.7" fill="#4a4a4a"/>
<ellipse cx="257.92" cy="225.61" rx="18" ry="29.7" fill="#4a4a4a"/>
<ellipse cx="259.00" cy="225.50" rx="18" ry="29.7" fill="#4a4a4a"/>
<path d="M260.13,255.14 L249.33,256.24 M257.87,195.86 L247.07,196.96" stroke="#161616" stroke-width="0.9"/>
<ellipse cx="259" cy="225.500" rx="18" ry="29.700" fill="#565656" stroke="#161616" stroke-width="1"/>
<ellipse cx="259.300" cy="225.500" rx="15.200" ry="26.400" fill="#909090" stroke="#1e1e1e" stroke-width="0.8"/>
<ellipse cx="259.500" cy="225.500" rx="13.600" ry="24.400" fill="#6a6a6a" stroke="#1e1e1e" stroke-width="0.700"/>
<ellipse cx="259.700" cy="225.700" rx="11.800" ry="21.600" fill="#3e3e3e" stroke="#a8a8a8" stroke-width="0.800"/>
<ellipse cx="259.900" cy="226" rx="9.800" ry="18.400" fill="#767676" stroke="#1c1c1c" stroke-width="0.8"/>
<ellipse cx="260.200" cy="226.300" rx="7.800" ry="15.200" fill="#adadad" stroke="#1c1c1c" stroke-width="0.9"/>
<path d="M256.300,215 Q252.800,226 256.300,238 Q254.800,226 257.800,214 Z" fill="#777"/>
</g>

<!-- ===== PART 9 bolt ===== -->
<path d="M299.500,431 L309,429.800 Q313.600,431.300 313.300,436.300 Q313,441.600 309,442.600 L299.500,443.200 Z" fill="#1e1e1e" stroke="#0e0e0e" stroke-width="0.8"/>
<path d="M303,430.800 L303,443 M306,430.400 L306,442.900 M309,430 L309,442.500" stroke="#3c3c3c" stroke-width="0.700"/>
<ellipse cx="296" cy="444.600" rx="8.600" ry="9.800" transform="rotate(28 296 444.600)" fill="#2e2e2e" stroke="#111" stroke-width="0.9"/>
<path d="M289,441 L294,437.500 L300,440 L300.500,446.500 L295.500,450.500 L289.500,447.500 Z" fill="#404040" stroke="#111" stroke-width="0.8"/>
<path d="M289.500,441.500 L294.300,438.500 L299.500,440.500" stroke="#808080" stroke-width="0.8" fill="none"/>
<circle cx="294.500" cy="444" r="2.300" fill="#555" stroke="#1a1a1a" stroke-width="0.600"/>

<!-- ===== PART 10 washer ===== -->
<g transform="rotate(35 324.600 424.300)">
<ellipse cx="324.600" cy="424.300" rx="10.600" ry="7.800" fill="#444" stroke="#141414" stroke-width="0.9"/>
<ellipse cx="324.900" cy="423.700" rx="6.200" ry="4" fill="#a9dcec" stroke="#1a1a1a" stroke-width="0.8"/>
</g>

<!-- ===== DRAIN BOLT + WASHER ===== -->
<path d="M547,261 L559,254 L563,264 L550.500,271.500 Q546,271 545,267 Q544.600,263 547,261 Z" fill="#2c2c2c" stroke="#101010" stroke-width="0.9"/>
<ellipse cx="548.600" cy="266.600" rx="3.300" ry="5.200" transform="rotate(-30 548.600 266.600)" fill="#3e3e3e" stroke="#101010" stroke-width="0.700"/>
<ellipse cx="560.500" cy="259" rx="4" ry="9.600" transform="rotate(-28 560.500 259)" fill="#3a3a3a" stroke="#101010" stroke-width="0.9"/>
<path d="M558.500,251.500 L565,249.500 L570.500,252 L571.500,258 L569,263 L564.500,265.500 Z" fill="#3e3e3e" stroke="#101010" stroke-width="0.9"/>
<path d="M565,250.500 L570,252.800 L570.700,257.500" stroke="#858585" stroke-width="0.9" fill="none"/>
<g transform="rotate(35 534.300 277.300)">
<ellipse cx="534.300" cy="277.300" rx="10.400" ry="7.600" fill="#404040" stroke="#141414" stroke-width="0.9"/>
<ellipse cx="534.600" cy="276.800" rx="6" ry="3.800" fill="#a9dcec" stroke="#1a1a1a" stroke-width="0.8"/>
</g>

<!-- ===== PART 11 seal ===== -->
<g transform="rotate(26.500 547.700 330.600)">
<ellipse cx="546.400" cy="331.400" rx="15" ry="23.600" fill="#333" stroke="#101010" stroke-width="1"/>
<ellipse cx="548.400" cy="330.400" rx="14.800" ry="23.200" fill="#3e3e3e" stroke="#101010" stroke-width="0.9"/>
<ellipse cx="548.800" cy="330.300" rx="11.200" ry="19" fill="#6c6c6c" stroke="#141414" stroke-width="0.8"/>
<ellipse cx="549.300" cy="330.200" rx="9.400" ry="16.600" fill="#383838" stroke="#141414" stroke-width="0.700"/>
<ellipse cx="550.400" cy="330" rx="6.800" ry="13.400" fill="#a9dcec" stroke="#1a1a1a" stroke-width="0.8"/>
</g>
</g>


<!-- LEADERS -->
<g class="ld">
<line x1="546" y1="147.5" x2="577" y2="133"/>
<line x1="480" y1="98" x2="498" y2="98.3"/>
<line x1="455" y1="82" x2="476" y2="75"/>
<line x1="460" y1="61.3" x2="495" y2="58.3"/>
<line x1="322.5" y1="82.5" x2="309" y2="97"/>
<line x1="155.5" y1="101.1" x2="161" y2="125.7"/>
<line x1="87.5" y1="102" x2="89.700" y2="125"/>
<line x1="87.5" y1="102" x2="70.500" y2="147"/>
<line x1="190" y1="212" x2="232" y2="213.7"/>
<line x1="255.400" y1="417.700" x2="298.600" y2="433.700"/>
<line x1="283" y1="399" x2="317.500" y2="415.600"/>
<line x1="529" y1="374.500" x2="538.5" y2="353.500"/>
</g>

<!-- LABELS -->
<g class="lbl" text-anchor="middle">
<text x="581.2" y="138.8">1</text>
<text x="472.5" y="102.8">2</text>
<text x="448.8" y="87.5">3</text>
<text x="454.5" y="66.2">4</text>
<text x="328" y="86.2">5</text>
<text x="153.7" y="99.6">6</text>
<text x="85" y="101.2">7</text>
<text x="182" y="217.5">8</text>
<text x="246" y="422">9</text>
<text x="275.5" y="401.2">10</text>
<text x="526.2" y="388.2">11</text>
</g>
</svg>
</body>
</html>
